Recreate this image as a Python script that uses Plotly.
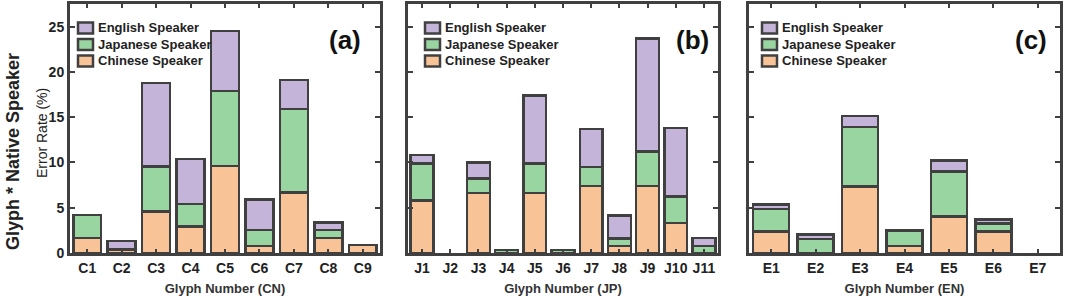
import plotly.graph_objects as go

# ---------------- data ----------------
cn_glyphs = ["C1", "C2", "C3", "C4", "C5", "C6", "C7", "C8", "C9"]
cn_chinese = [1.65, 0.4, 4.6, 2.9, 9.6, 0.75, 6.7, 1.65, 0.9]
cn_japanese = [2.55, 0.0, 4.95, 2.5, 8.3, 1.8, 9.2, 0.9, 0.0]
cn_english = [0.0, 0.9, 9.2, 5.0, 6.6, 3.35, 3.2, 0.8, 0.0]

jp_glyphs = ["J1", "J2", "J3", "J4", "J5", "J6", "J7", "J8", "J9", "J10", "J11"]
jp_chinese = [5.8, 0.0, 6.6, 0.0, 6.6, 0.0, 7.4, 0.75, 7.4, 3.3, 0.0]
jp_japanese = [4.1, 0.0, 1.65, 0.35, 3.3, 0.35, 2.1, 0.85, 3.8, 2.95, 0.8]
jp_english = [0.9, 0.0, 1.75, 0.0, 7.5, 0.0, 4.2, 2.55, 12.5, 7.55, 0.85]

en_glyphs = ["E1", "E2", "E3", "E4", "E5", "E6", "E7"]
en_chinese = [2.4, 0.0, 7.35, 0.75, 4.05, 2.4, 0.0]
en_japanese = [2.45, 1.55, 6.55, 1.75, 4.95, 0.85, 0.0]
en_english = [0.5, 0.5, 1.25, 0.0, 1.2, 0.45, 0.0]

series_names = ["Chinese Speaker", "Japanese Speaker", "English Speaker"]
legend_order = ["English Speaker", "Japanese Speaker", "Chinese Speaker"]
x_titles = ["Glyph Number (CN)", "Glyph Number (JP)", "Glyph Number (EN)"]
panel_labels = ["(a)", "(b)", "(c)"]
y_ticks = [0, 5, 10, 15, 20, 25]

# ---------------- style ----------------
colors = {"Chinese Speaker": "#F8C497",
          "Japanese Speaker": "#98D5A1",
          "English Speaker": "#C4B4D9"}
edge = "#404040"
FONT = "Liberation Sans"
W, H = 1065, 297
L, R, T, B = 70, 5, 4, 44
plot_w = W - L - R
plot_h = H - T - B


def px_x(p):
    return (p - L) / plot_w


def px_y(p):
    return 1 - (p - T) / plot_h


domains = [(70, 380), (408, 718), (749, 1060)]
label_x = [345, 692, 1031]
legend_left = [78, 425, 762]
legend_rows = [28, 44.5, 61]

fig = go.Figure()
panels = [
    (cn_glyphs, [cn_chinese, cn_japanese, cn_english]),
    (jp_glyphs, [jp_chinese, jp_japanese, jp_english]),
    (en_glyphs, [en_chinese, en_japanese, en_english]),
]

for i, (cats, vals) in enumerate(panels):
    ax = "" if i == 0 else str(i + 1)
    for name, v in zip(series_names, vals):
        fig.add_trace(go.Bar(
            x=cats, y=[val if val > 0 else None for val in v], name=name,
            xaxis="x" + ax, yaxis="y" + ax, showlegend=False,
            marker=dict(color=colors[name], line=dict(color=edge, width=2.5)),
        ))
    d0, d1 = domains[i]
    xa = dict(domain=[px_x(d0), px_x(d1)], anchor="y" + ax,
              showline=True, linecolor=edge, linewidth=3, mirror="ticks",
              ticks="inside", ticklen=4, tickwidth=2, tickcolor=edge,
              tickfont=dict(family=FONT, size=14, color="#222222", weight="bold"),
              title=dict(text=x_titles[i], standoff=10,
                         font=dict(family=FONT, size=13, color="#333333", weight="bold")),
              showgrid=False, zeroline=False, fixedrange=True)
    ya = dict(domain=[0, 1], anchor="x" + ax, range=[0, 27.5],
              showline=True, linecolor=edge, linewidth=3, mirror="ticks",
              ticks="inside", ticklen=5, tickwidth=2, tickcolor=edge,
              tickvals=y_ticks, showticklabels=(i == 0),
              tickfont=dict(family=FONT, size=14, color="#222222", weight="bold"),
              showgrid=False, zeroline=False, fixedrange=True)
    fig.update_layout({"xaxis" + ax: xa, "yaxis" + ax: ya})

    # legend (boxes + labels) in the upper-left corner of each panel
    for name, yc in zip(legend_order, legend_rows):
        bx = legend_left[i]
        fig.add_shape(type="rect", xref="paper", yref="paper",
                      x0=px_x(bx), x1=px_x(bx + 15),
                      y0=px_y(yc + 5.5), y1=px_y(yc - 5.5),
                      fillcolor=colors[name], line=dict(color=edge, width=2.5))
        fig.add_annotation(x=px_x(bx + 17.5), y=px_y(yc), xref="paper", yref="paper",
                           xanchor="left", yanchor="middle", text=name, showarrow=False,
                           font=dict(family=FONT, size=13, color="#222222", weight="bold"))

    fig.add_annotation(x=px_x(label_x[i]), y=px_y(40), xref="paper", yref="paper",
                       xanchor="center", yanchor="middle",
                       text=panel_labels[i], showarrow=False,
                       font=dict(family=FONT, size=26, color="#111111", weight="bold"))

fig.add_annotation(x=px_x(42), y=px_y(133), xref="paper", yref="paper",
                   xanchor="center", yanchor="middle",
                   text="Error Rate (%)", textangle=-90, showarrow=False,
                   font=dict(family=FONT, size=14, color="#222222"))
fig.add_annotation(x=px_x(13), y=px_y(152), xref="paper", yref="paper",
                   xanchor="center", yanchor="middle",
                   text="Glyph * Native Speaker", textangle=-90, showarrow=False,
                   font=dict(family=FONT, size=18, color="#222222", weight="bold"))

fig.update_layout(
    width=W, height=H, barmode="stack", bargap=0.19,
    margin=dict(l=L, r=R, t=T, b=B, autoexpand=False),
    paper_bgcolor="white", plot_bgcolor="white", showlegend=False,
)

fig.write_html("out.html", config={"displayModeBar": False, "staticPlot": True},
               post_script="document.body.style.margin='0';")
